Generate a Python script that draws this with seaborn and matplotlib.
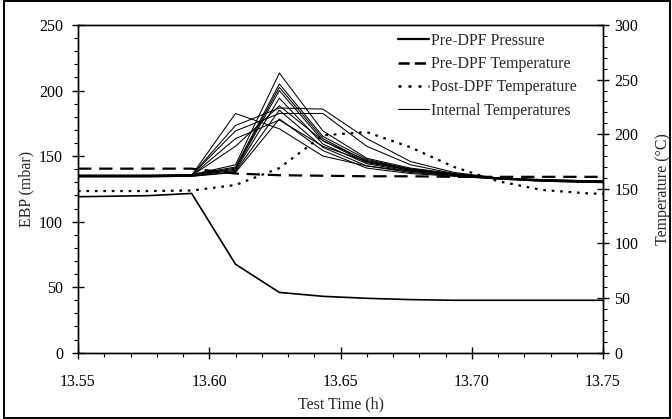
import numpy as np
import pandas as pd
import matplotlib
matplotlib.use("Agg")
import matplotlib.pyplot as plt
import seaborn as sns
from matplotlib.lines import Line2D
from matplotlib.patches import Rectangle
from matplotlib.ticker import MultipleLocator

# ---------------- data ----------------
times = [13.55, 13.5767, 13.5933, 13.61, 13.6267, 13.6433, 13.66,
         13.6767, 13.6933, 13.71, 13.7267, 13.7433, 13.76]

pre_dpf_pressure = [119, 119.8, 121.5, 67.5, 46, 43, 41.5, 40.5, 40, 40, 40, 40, 40]
pre_dpf_temp = [168.5, 168.5, 168.5, 164, 162.5, 162, 161.5, 161.5, 161, 161, 161, 161, 161]
post_dpf_temp = [148, 148, 148.5, 153.5, 169, 199, 202, 188, 170, 157, 149, 146, 144.5]

internal_1 = [162, 162, 162.5, 219, 205, 180, 171, 166, 162, 159.5, 158, 157, 156]
internal_2 = [162, 162, 162.5, 208, 224, 223, 196, 175, 165, 160, 158, 157, 156.5]
internal_3 = [162, 162, 162.5, 203, 219, 219, 189, 172, 164, 160, 158, 157, 156.5]
internal_4 = [161.5, 161.5, 162, 196, 213, 189, 175, 168, 163, 159.5, 157.5, 156.5, 155.5]
internal_5 = [161.5, 161.5, 162, 189, 226, 194, 176, 168, 163, 159.5, 157.5, 156.5, 155.5]
internal_6 = [162.5, 162.5, 163, 172, 256, 203, 178, 169, 164, 160, 158.5, 157.5, 157]
internal_7 = [162.5, 162.5, 163, 170, 246, 198, 177, 168, 163.5, 160, 158.5, 157.5, 157]
internal_8 = [162, 162, 162.5, 169, 243, 196, 175, 167, 163, 160, 158, 157, 156.5]
internal_9 = [162, 162, 162.5, 168, 240, 194, 174, 167, 163, 159.5, 158, 157, 156]
internal_10 = [161.5, 161.5, 162, 167, 233, 191, 173, 166, 162.5, 159.5, 157.5, 156.5, 155.5]
internal_11 = [161, 161, 161.5, 166, 222, 188, 171, 165, 162, 159, 157, 156, 155.5]
internal_12 = [161, 161, 161.5, 165, 214, 185, 169, 164, 161.5, 159, 157, 156, 155]

internals = [internal_1, internal_2, internal_3, internal_4, internal_5, internal_6,
             internal_7, internal_8, internal_9, internal_10, internal_11, internal_12]

x_ticks = [13.55, 13.60, 13.65, 13.70, 13.75]
x_tick_labels = ["13.55", "13.60", "13.65", "13.70", "13.75"]

# ---------------- frames ----------------
df_p = pd.DataFrame({"time": times, "value": pre_dpf_pressure})
df_pre_t = pd.DataFrame({"time": times, "value": pre_dpf_temp})
df_post_t = pd.DataFrame({"time": times, "value": post_dpf_temp})
df_int = pd.concat(
    [pd.DataFrame({"time": times, "value": v, "sensor": i}) for i, v in enumerate(internals)],
    ignore_index=True)

# ---------------- style ----------------
sns.set_theme(style="ticks")
plt.rcParams["font.family"] = ["Liberation Serif", "DejaVu Serif"]
FS = 11.5
plt.rcParams["font.size"] = FS

fig = plt.figure(figsize=(6.72, 4.19), dpi=100)
ax = fig.add_axes([78 / 672, 1 - 352.7 / 419, (603 - 78) / 672, (352.7 - 25) / 419])
ax2 = ax.twinx()

# pressure on left axis
sns.lineplot(data=df_p, x="time", y="value", ax=ax, color="black", lw=1.2,
             estimator=None, legend=False)

# temperatures on right axis
sns.lineplot(data=df_int, x="time", y="value", units="sensor", estimator=None,
             ax=ax2, color="black", lw=0.75, legend=False)
sns.lineplot(data=df_pre_t, x="time", y="value", ax=ax2, color="black", lw=1.6,
             estimator=None, legend=False)
ax2.lines[-1].set_dashes([6, 3.5])
sns.lineplot(data=df_post_t, x="time", y="value", ax=ax2, color="black", lw=1.6,
             estimator=None, legend=False)
ax2.lines[-1].set_dashes([1.2, 2.6])

ax.set_xlim(13.55, 13.75)
ax.set_ylim(0, 250)
ax2.set_ylim(0, 300)

ax.set_xticks(x_ticks)
ax.set_xticklabels(x_tick_labels)
ax.xaxis.set_minor_locator(MultipleLocator(0.01))
ax.yaxis.set_major_locator(MultipleLocator(50))
ax.yaxis.set_minor_locator(MultipleLocator(10))
ax2.yaxis.set_major_locator(MultipleLocator(50))
ax2.yaxis.set_minor_locator(MultipleLocator(10))

for a in (ax, ax2):
    for s in a.spines.values():
        s.set_visible(True)
        s.set_color("black")
        s.set_linewidth(1.0)
    a.tick_params(which="major", direction="inout", length=8.5, width=1.0,
                  labelsize=FS, colors="black")
    a.tick_params(which="minor", direction="out", length=3, width=0.8, colors="black")
    a.set_xlabel("")
    a.set_ylabel("")
ax.tick_params(axis="x", which="major", pad=11)
ax.tick_params(axis="y", which="major", pad=6.5)
ax2.tick_params(axis="y", which="major", pad=4)

ax.set_xlabel("Test Time (h)", fontsize=FS, labelpad=5)
ax.set_ylabel("EBP (mbar)", fontsize=FS, labelpad=3.5)
ax2.set_ylabel("Temperature (\u00b0C)", fontsize=FS, labelpad=12)

handles = [
    Line2D([], [], color="black", lw=1.6),
    Line2D([], [], color="black", lw=1.8, dashes=[4.5, 2]),
    Line2D([], [], color="black", lw=1.8, dashes=[1.2, 2.8]),
    Line2D([], [], color="black", lw=0.8),
]
labels = ["Pre-DPF Pressure", "Pre-DPF Temperature", "Post-DPF Temperature",
          "Internal Temperatures"]
ax2.legend(handles, labels, loc="upper left", bbox_to_anchor=(0.598, 0.995),
           frameon=False, fontsize=FS, handlelength=1.9, handletextpad=0.15,
           labelspacing=0.45, borderaxespad=0.0)

fig.patches.append(Rectangle((4 / 672, 1.5 / 419), 666 / 672, 416 / 419,
                             transform=fig.transFigure,
                             fill=False, edgecolor="black", lw=1.4))

fig.savefig("out.png", dpi=100)
